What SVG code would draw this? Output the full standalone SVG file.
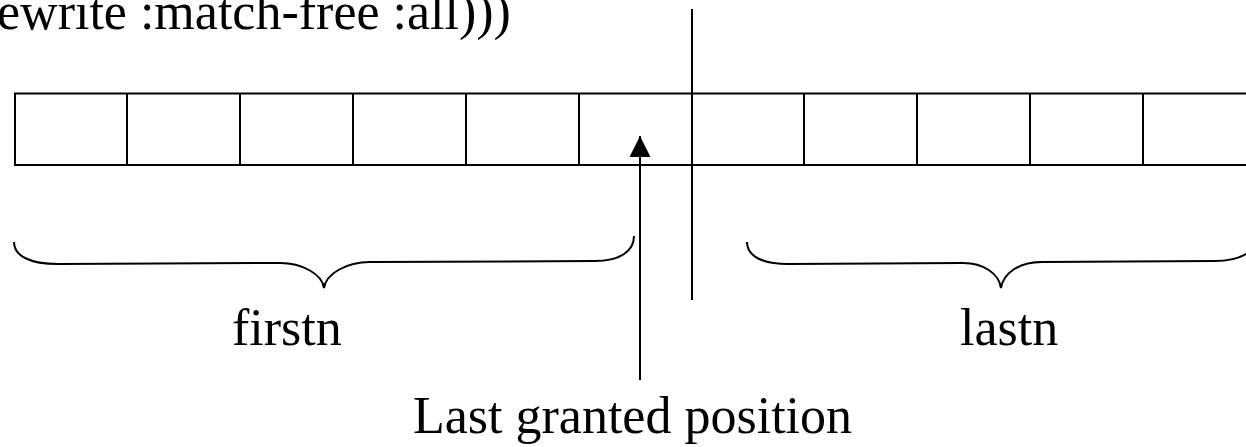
<svg xmlns="http://www.w3.org/2000/svg" width="1246" height="447" viewBox="0 0 1246 447">
<style>
.ln{stroke:#000;stroke-width:2;fill:none}
.t{font-family:"Liberation Serif","Times New Roman",serif;font-size:52px;fill:#000}
</style>
<defs>
<marker id="ah" markerWidth="22" markerHeight="22" refX="21" refY="10.5" orient="auto" markerUnits="userSpaceOnUse">
<path d="M0,0 L21,10.5 L0,21 Z" fill="#000"/>
</marker>
</defs>
<rect width="1246" height="447" fill="#fff"/>
<text class="t" x="-3" y="29">ewrite :match-free :all)))</text>
<g id="array">
<rect class="ln" x="15" y="93.5" width="1241" height="71.5"/>
<path class="ln" d="M127,93.5V165 M240,93.5V165 M353,93.5V165 M466,93.5V165 M579,93.5V165 M692,93.5V165 M804,93.5V165 M917,93.5V165 M1030,93.5V165 M1143,93.5V165"/>
</g>
<g id="divider">
<line class="ln" x1="692" y1="9" x2="692" y2="300"/>
</g>
<g id="firstn">
<path class="ln" d="M14,242 C14,256 30,264 58,264 L280,263 C302,263 322,274 324,288 C326,274 346,262 370,262 L595,261 C620,261 634,251 634,236"/>
<text class="t" x="232" y="345">firstn</text>
</g>
<g id="lastn">
<path class="ln" d="M747,242 C747,256 762,264 788,264 L963,263 C984,263 999,274 1001,288 C1003,274 1018,262 1042,262 L1215,261 C1240,261 1258,251 1258,236"/>
<text class="t" x="960" y="345">lastn</text>
</g>
<g id="connectors">
<line class="ln" x1="640" y1="380" x2="640" y2="136" marker-end="url(#ah)"/>
</g>
<g id="label">
<text class="t" x="413" y="433">Last granted position</text>
</g>
</svg>
